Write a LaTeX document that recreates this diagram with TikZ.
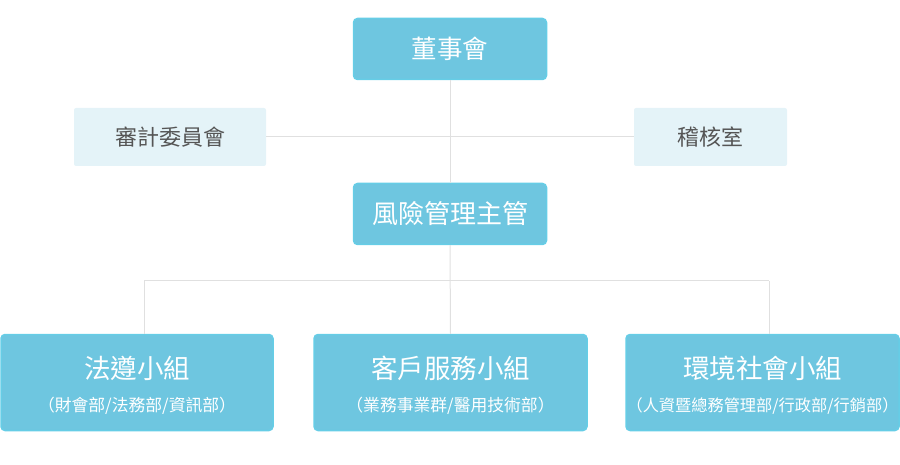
\documentclass[tikz,border=0pt]{standalone}
\usepackage{fontspec}
\setmainfont{Noto Sans CJK TC}
\begin{document}
\begin{tikzpicture}[x=1pt,y=-1pt,
  bluebox/.style={draw=boxedge,fill=boxfill,line width=1.5pt,rounded corners=4pt,text=white,inner sep=0pt,anchor=center},
  lightbox/.style={fill=lightfill,rounded corners=2pt,text=textgray,inner sep=0pt,anchor=center},
  gtitle/.style={text=white,inner sep=0pt,font=\fontsize{26.5}{30}\selectfont},
  gsub/.style={text=white,inner sep=0pt,font=\fontsize{16.8}{20}\selectfont},
  conn/.style={draw=linegray,line width=1pt}]
\definecolor{boxfill}{HTML}{6EC6E0}
\definecolor{boxedge}{HTML}{66CDE6}
\definecolor{lightfill}{HTML}{E4F3F8}
\definecolor{textgray}{HTML}{555555}
\definecolor{linegray}{HTML}{E0E0E0}
\useasboundingbox (0,0) rectangle (900,465);
\node[bluebox,minimum width=193pt,minimum height=61pt,font=\fontsize{25.5}{28}\selectfont] (board) at (450,49) {董事會};
\node[lightbox,minimum width=192pt,minimum height=58pt,font=\fontsize{22}{24}\selectfont] (audit) at (170,137) {審計委員會};
\node[lightbox,minimum width=153pt,minimum height=58pt,font=\fontsize{22}{24}\selectfont] (internal) at (710.5,137) {稽核室};
\node[bluebox,minimum width=193pt,minimum height=61pt,font=\fontsize{26}{28}\selectfont] (risk) at (450,214) {風險管理主管};
\node[bluebox,minimum width=272pt,minimum height=96pt] (g1) at (137,382.5) {};
\node[bluebox,minimum width=273pt,minimum height=96pt] (g2) at (450.5,382.5) {};
\node[bluebox,minimum width=273pt,minimum height=96pt] (g3) at (762.5,382.5) {};
\node[gtitle] (g1t) at (g1.center) [yshift=14pt] {法遵小組};
\node[gsub] (g1s) at (g1.center) [yshift=-23.5pt] {（財會部/法務部/資訊部）};
\node[gtitle] (g2t) at (g2.center) [yshift=14pt] {客戶服務小組};
\node[gsub] (g2s) at (g2.center) [yshift=-23.5pt] {（業務事業群/醫用技術部）};
\node[gtitle] (g3t) at (g3.center) [yshift=14pt] {環境社會小組};
\node[gsub,font=\fontsize{16.2}{20}\selectfont] (g3s) at (g3.center) [yshift=-23.5pt] {（人資暨總務管理部/行政部/行銷部）};
\coordinate (busL) at (144,281);
\coordinate (busR) at (769,281);
\draw[conn] (board.south) -- (risk.north);
\draw[conn] (audit.east) -- (internal.west);
\draw[conn] (risk.south) -- (g2.north);
\draw[conn] (busL) -- (busR);
\draw[conn] (busL) -- (busL |- g1.north);
\draw[conn] (busR) -- (busR |- g3.north);
\end{tikzpicture}
\end{document}
